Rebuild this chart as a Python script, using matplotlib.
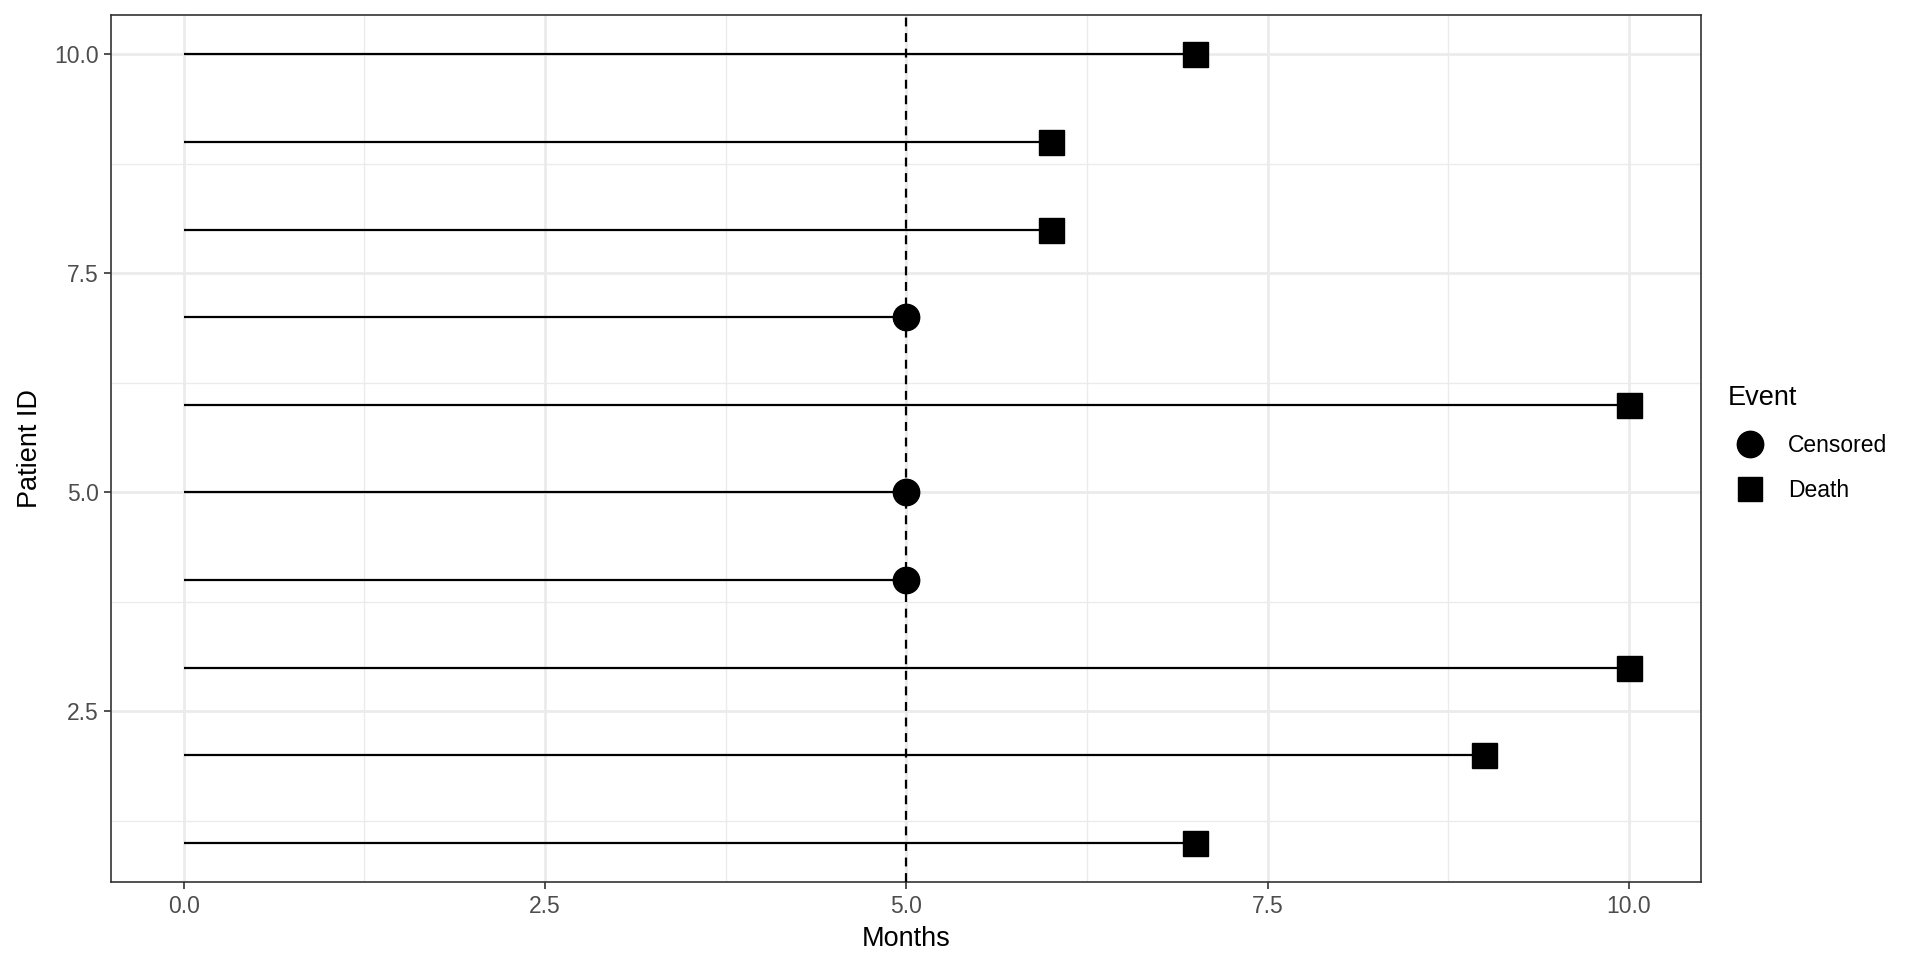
import matplotlib
matplotlib.use("Agg")
import matplotlib.pyplot as plt
from matplotlib.lines import Line2D
from matplotlib.ticker import MultipleLocator

plt.rcParams["font.family"] = ["Liberation Sans", "DejaVu Sans"]

# Data
patient_id = [1, 2, 3, 4, 5, 6, 7, 8, 9, 10]
months = [7, 9, 10, 5, 5, 10, 5, 6, 6, 7]
event = ["Death", "Death", "Death", "Censored", "Censored",
         "Death", "Censored", "Death", "Death", "Death"]
cutoff = 5

marker_for = {"Censored": "o", "Death": "s"}
size_for = {"Censored": 19, "Death": 18}

fig = plt.figure(figsize=(19.2, 9.6), dpi=100)
ax = fig.add_axes([0.058, 0.081, 0.828, 0.9035])

# segments
ax.hlines(patient_id, 0, months, color="black", linewidth=1.6, zorder=3)

# end markers
for pid, m, ev in zip(patient_id, months, event):
    ax.plot(m, pid, marker=marker_for[ev], markersize=size_for[ev],
            color="black", linestyle="none", zorder=4)

ax.axvline(cutoff, color="black", linestyle=(0, (4, 3)), linewidth=1.6, zorder=3)

ax.set_xlim(-0.5, 10.5)
ax.set_ylim(0.55, 10.45)
ax.xaxis.set_minor_locator(MultipleLocator(1.25))
ax.yaxis.set_minor_locator(MultipleLocator(1.25))
ax.set_xticks([0, 2.5, 5, 7.5, 10])
ax.set_xticklabels(["0.0", "2.5", "5.0", "7.5", "10.0"])
ax.set_yticks([2.5, 5, 7.5, 10])
ax.set_yticklabels(["2.5", "5.0", "7.5", "10.0"])

ax.grid(which="major", color="#EBEBEB", linewidth=2.0, zorder=0)
ax.grid(which="minor", color="#EBEBEB", linewidth=1.0, zorder=0)
ax.set_axisbelow(True)

for s in ax.spines.values():
    s.set_color("#333333")
    s.set_linewidth(1.2)

ax.tick_params(which="major", length=5, width=1.2, color="#333333",
               labelsize=16.5, labelcolor="#4D4D4D", pad=4)
ax.tick_params(which="minor", length=0)

ax.set_xlabel("Months", fontsize=19.5, labelpad=6)
ax.set_ylabel("Patient ID", fontsize=19.5, labelpad=8)

handles = [
    Line2D([], [], marker="o", color="black", linestyle="none", markersize=19),
    Line2D([], [], marker="s", color="black", linestyle="none", markersize=17.5),
]
leg = fig.legend(handles, ["Censored", "Death"], title="Event",
                 loc="upper left", bbox_to_anchor=(0.889, 0.620),
                 frameon=False, fontsize=16.5, title_fontsize=19.5,
                 handletextpad=0.65, labelspacing=0.97, alignment="left")

fig.savefig("out.png", dpi=100)
